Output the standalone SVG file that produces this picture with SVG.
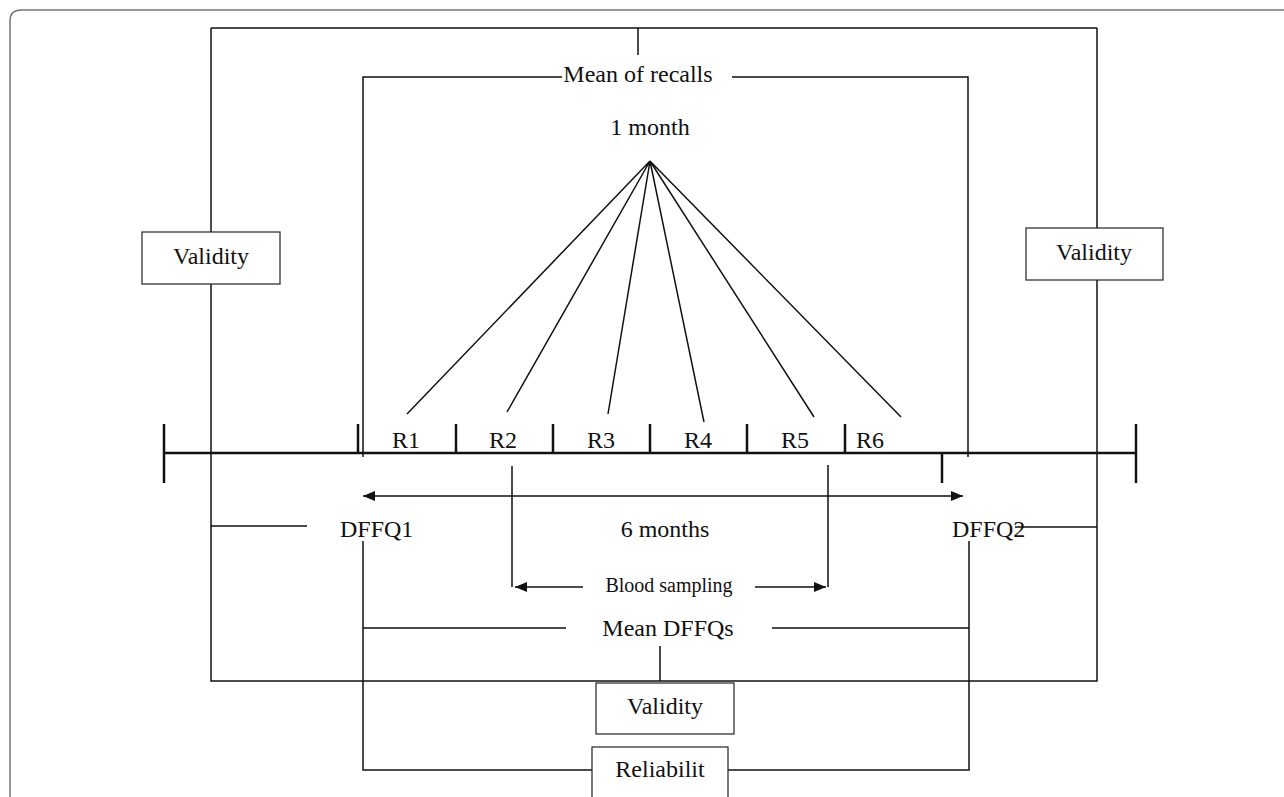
<svg xmlns="http://www.w3.org/2000/svg" width="1284" height="797" viewBox="0 0 1284 797">
<style>
.ln{stroke:#111;stroke-width:1.5;fill:none}
.ax{stroke:#111;stroke-width:2.5;fill:none}
.box{fill:#fff;stroke:#222;stroke-width:1.2}
.t{font-family:"Liberation Serif","Times New Roman",serif;font-size:24px;fill:#111}
.s{font-family:"Liberation Serif","Times New Roman",serif;font-size:20px;fill:#111}
</style>
<defs>
<marker id="ah" viewBox="0 0 12 10" refX="12" refY="5" markerWidth="12" markerHeight="10" markerUnits="userSpaceOnUse" orient="auto-start-reverse">
<path d="M0,0 L12,5 L0,10 Z" fill="#111"/>
</marker>
</defs>
<rect width="1284" height="797" fill="#fff"/>
<path d="M10,797 L10,21 Q10,10 21,10 L1284,10" fill="none" stroke="#777" stroke-width="1.5"/>
<g id="connectors">
<!-- outer validity frame -->
<path class="ln" d="M211,28 L1097,28 M211,28 L211,681 L1097,681 L1097,28 M638,28 L638,55"/>
<!-- mean of recalls frame -->
<path class="ln" d="M363,457 L363,77 L562,77 M732,77 L968,77 L968,457"/>
<!-- fan -->
<path class="ln" d="M650,161 L407,414 M650,161 L507,412 M650,161 L608,414 M650,161 L704,422 M650,161 L814,417 M650,161 L901,417"/>
<!-- axis -->
<path class="ax" d="M163,453 L1136,453 M164,424 L164,483 M1136,424 L1136,483 M358,424 L358,453 M456,424 L456,453 M553,424 L553,453 M650,424 L650,453 M747,424 L747,453 M845,424 L845,453 M942,453 L942,483"/>
<!-- 6 months arrow -->
<line class="ln" x1="363" y1="496" x2="963" y2="496" marker-start="url(#ah)" marker-end="url(#ah)"/>
<!-- blood sampling -->
<path class="ln" d="M512,466 L512,587 M828,465 L828,587"/>
<line class="ln" x1="583" y1="587" x2="515" y2="587" marker-end="url(#ah)"/>
<line class="ln" x1="755" y1="587" x2="826" y2="587" marker-end="url(#ah)"/>
<!-- DFFQ links -->
<path class="ln" d="M211,526 L307,526 M1015,527 L1097,527"/>
<path class="ln" d="M363,541 L363,770 L592,770 M969,541 L969,770 L728,770"/>
<path class="ln" d="M363,628 L566,628 M772,628 L969,628 M660,646 L660,681"/>
</g>
<g id="node-mean-recalls"><text class="t" x="638" y="82" text-anchor="middle">Mean of recalls</text></g>
<g id="node-1month"><text class="t" x="650" y="135" text-anchor="middle">1 month</text></g>
<g id="node-recalls">
<text class="t" x="406" y="448" text-anchor="middle">R1</text>
<text class="t" x="503" y="448" text-anchor="middle">R2</text>
<text class="t" x="601" y="448" text-anchor="middle">R3</text>
<text class="t" x="698" y="448" text-anchor="middle">R4</text>
<text class="t" x="795" y="448" text-anchor="middle">R5</text>
<text class="t" x="870" y="448" text-anchor="middle">R6</text>
</g>
<g id="node-validity-left"><rect class="box" x="142" y="232" width="138" height="52"/><text class="t" x="211" y="264" text-anchor="middle">Validity</text></g>
<g id="node-validity-right"><rect class="box" x="1026" y="228" width="137" height="52"/><text class="t" x="1094" y="260" text-anchor="middle">Validity</text></g>
<g id="node-dffq1"><text class="t" x="340" y="537">DFFQ1</text></g>
<g id="node-6months"><text class="t" x="665" y="537" text-anchor="middle">6 months</text></g>
<g id="node-dffq2"><text class="t" x="952" y="537">DFFQ2</text></g>
<g id="node-blood"><text class="s" x="669" y="592" text-anchor="middle">Blood sampling</text></g>
<g id="node-mean-dffqs"><text class="t" x="668" y="636" text-anchor="middle">Mean DFFQs</text></g>
<g id="node-validity-bottom"><rect class="box" x="596" y="683" width="138" height="51"/><text class="t" x="665" y="714" text-anchor="middle">Validity</text></g>
<g id="node-reliability"><rect class="box" x="592" y="747" width="136" height="60"/><text class="t" x="660" y="777" text-anchor="middle">Reliabilit</text></g>
</svg>
